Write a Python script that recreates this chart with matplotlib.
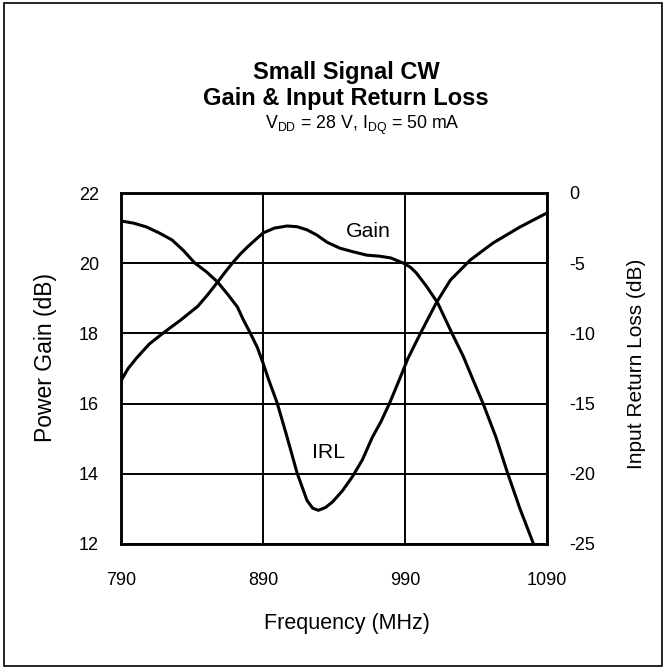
import matplotlib
matplotlib.use("Agg")
import matplotlib.pyplot as plt
from matplotlib.patches import Rectangle

plt.rcParams['font.family'] = ['Liberation Sans', 'DejaVu Sans']
plt.rcParams['mathtext.fontset'] = 'custom'
plt.rcParams['mathtext.rm'] = 'Liberation Sans'
plt.rcParams['axes.unicode_minus'] = False

# Data
gain_freq = [790, 795, 801, 810, 820, 832, 844, 851, 858, 864, 869, 874, 879, 885,
             890, 898, 907, 914, 921, 928, 935, 944, 953, 963, 972, 980, 989,
             994, 998, 1005, 1013, 1023, 1031, 1038, 1045, 1054, 1062, 1071, 1081]
gain_db = [16.65, 17.00, 17.30, 17.70, 18.02, 18.38, 18.77, 19.10, 19.46, 19.78,
           20.03, 20.26, 20.46, 20.68, 20.86, 21.00, 21.06, 21.04, 20.95, 20.80,
           20.60, 20.43, 20.33, 20.23, 20.20, 20.15, 20.00, 19.88, 19.72, 19.35,
           18.87, 18.01, 17.35, 16.67, 16.00, 15.05, 14.05, 13.00, 11.95]

irl_freq = [790, 799, 808, 817, 826, 834, 842, 850, 858, 865, 872, 876, 881, 886,
            890, 894, 900, 907, 914, 921, 925, 929, 934, 939, 946, 953, 960, 967,
            973, 979, 986, 992, 1001, 1012, 1022, 1036, 1052, 1071, 1090]
irl_db = [-1.99, -2.15, -2.42, -2.85, -3.35, -4.10, -4.99, -5.60, -6.34, -7.20,
          -8.12, -9.00, -9.97, -11.0, -12.1, -13.3, -14.96, -17.4, -19.94, -21.9,
          -22.45, -22.6, -22.4, -22.0, -21.2, -20.2, -19.0, -17.4, -16.3, -15.0,
          -13.3, -11.8, -9.97, -7.83, -6.2, -4.77, -3.56, -2.42, -1.42]

x_ticks = [790, 890, 990, 1090]
gain_ticks = [12, 14, 16, 18, 20, 22]
irl_ticks = [-25, -20, -15, -10, -5, 0]

W, H = 666, 669
fig = plt.figure(figsize=(6.66, 6.69), dpi=100)
ax = fig.add_axes([121 / W, 1 - 544 / H, 426 / W, 351 / H])

# outer border
fig.patches.append(Rectangle((0.006, 0.004), 0.988, 0.992, transform=fig.transFigure,
                             fill=False, edgecolor='black', linewidth=1.2))

ax.plot(gain_freq, gain_db, color='black', linewidth=2.2)
ax.set_xlim(790, 1090)
ax.set_ylim(12, 22)
ax.set_xticks(x_ticks)
ax.set_yticks(gain_ticks)
ax.grid(True, color='black', linewidth=1.4)
ax.tick_params(axis='both', length=0, labelsize=13)
ax.tick_params(axis='y', pad=16)
ax.tick_params(axis='x', pad=20)
for s in ax.spines.values():
    s.set_linewidth(1.8)

ax2 = ax.twinx()
ax2.plot(irl_freq, irl_db, color='black', linewidth=2.2)
ax2.set_ylim(-25, 0)
ax2.set_yticks(irl_ticks)
ax2.tick_params(axis='y', length=0, labelsize=13, pad=16)
for s in ax2.spines.values():
    s.set_linewidth(1.8)

ax.text(964.5, 20.89, "Gain", fontsize=15.3, ha='center', va='center')
ax.text(936, 14.6, "IRL", fontsize=15.3, ha='center', va='center')

# axis titles
fig.text(347 / W, 1 - 623 / H, "Frequency (MHz)", fontsize=15.5, ha='center', va='center')
fig.text(46 / W, 1 - 358 / H, "Power Gain (dB)", fontsize=16.5, rotation=90,
         ha='center', va='center')
fig.text(637 / W, 1 - 364 / H, "Input Return Loss (dB)", fontsize=15, rotation=90,
         ha='center', va='center')

fig.text(346 / W, 1 - 72 / H, "Small Signal CW", fontsize=17, fontweight='bold',
         ha='center', va='center')
fig.text(346 / W, 1 - 99 / H, "Gain & Input Return Loss", fontsize=17, fontweight='bold',
         ha='center', va='center')
fig.text(362 / W, 1 - 125 / H,
         r"V$_{\mathregular{DD}}$ = 28 V, I$_{\mathregular{DQ}}$ = 50 mA",
         fontsize=12.8, ha='center', va='center')

fig.savefig("out.png", dpi=100)
